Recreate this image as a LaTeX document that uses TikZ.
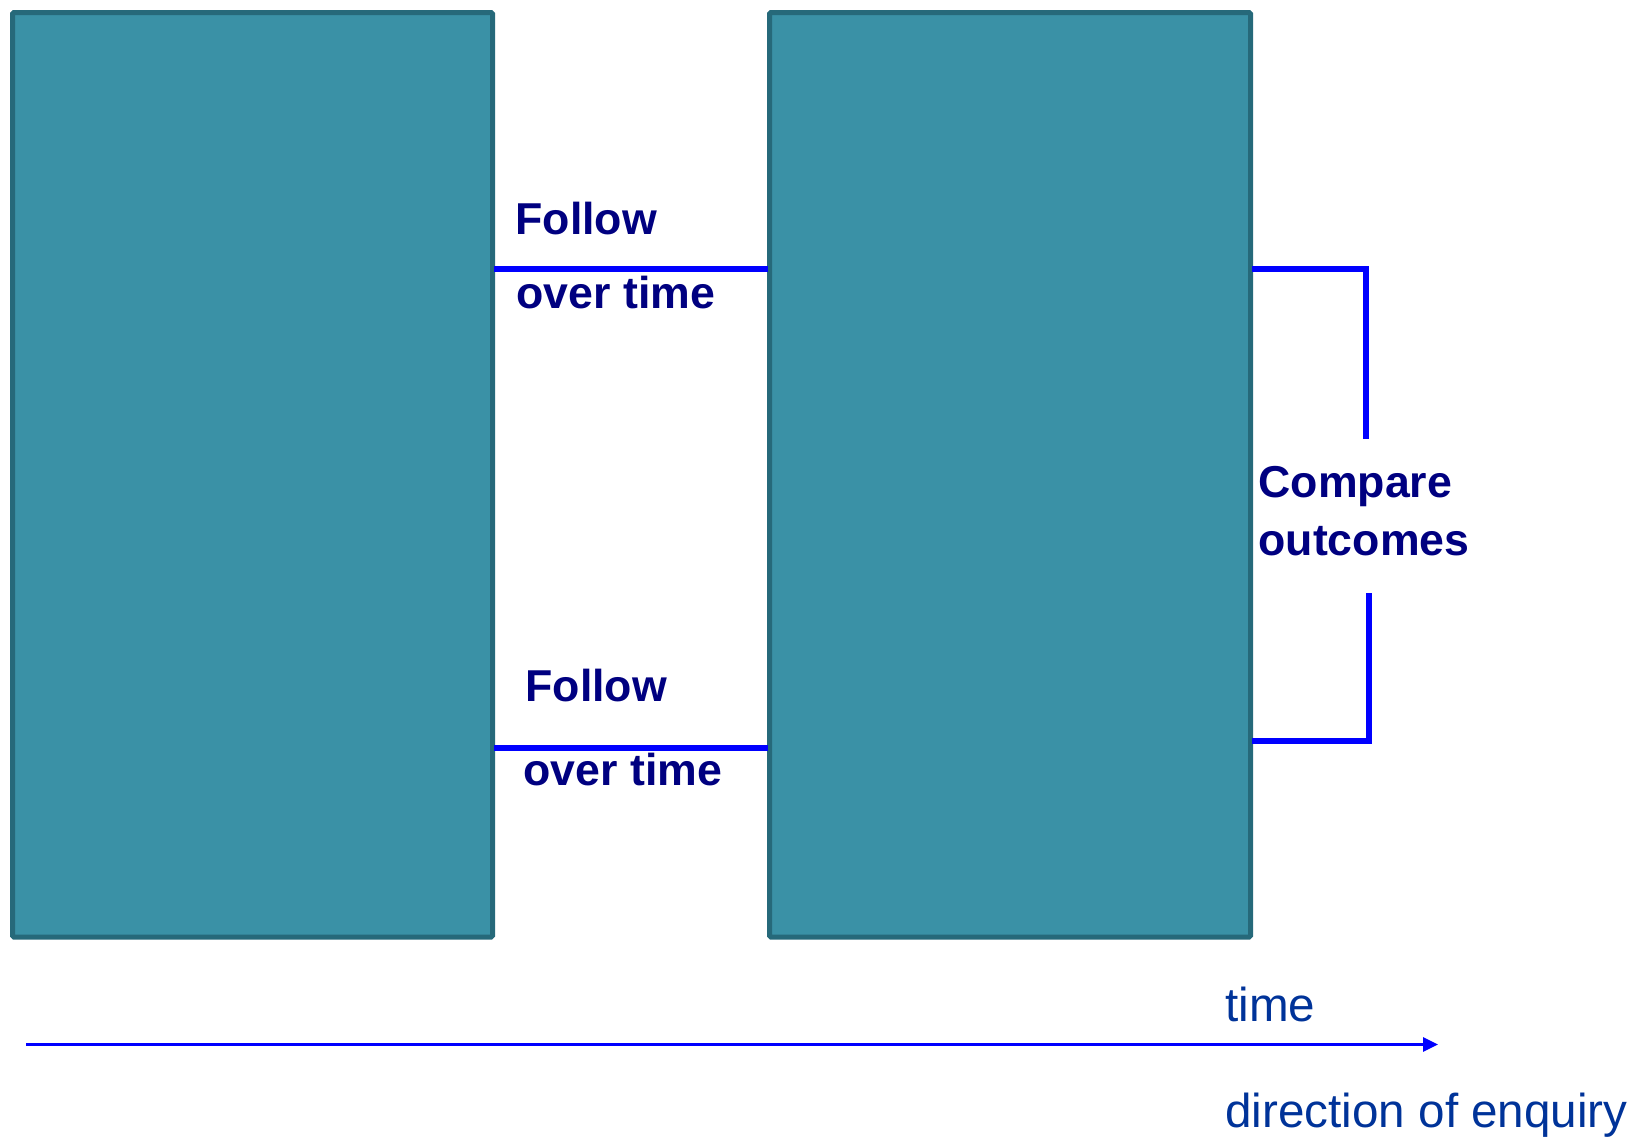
\documentclass[tikz,border=0pt]{standalone}
\usepackage{fontspec}
\setmainfont{Liberation Sans}
\usetikzlibrary{arrows.meta}

\definecolor{cohortfill}{RGB}{58,145,166}
\definecolor{cohortedge}{RGB}{38,105,122}
\definecolor{labelnavy}{RGB}{0,0,128}
\definecolor{axisblue}{RGB}{0,51,153}

\tikzset{every picture/.style={line width=0.75pt}}
\tikzset{
  cohort/.style={draw=cohortedge, fill=cohortfill, line width=3.75pt, rounded corners=1pt},
  followline/.style={draw={rgb,255:red,0;green,0;blue,255}, line width=4.5pt},
  boldlabel/.style={text=labelnavy, font=\fontsize{33.5pt}{40pt}\selectfont\bfseries, inner sep=0pt, anchor=base west},
  axislabel/.style={text=axisblue, font=\fontsize{35.7pt}{43pt}\selectfont, inner sep=0pt, anchor=base west}
}

\begin{document}
\begin{tikzpicture}[x=0.75pt,y=0.75pt,yscale=-1,xscale=1]
	\useasboundingbox (0,0) rectangle (1633,1139);

	%Shape: Rectangle [first group]
	\draw [cohort] (12.5,12.5) rectangle (492.5,937);
	%Shape: Rectangle [second group]
	\draw [cohort] (769.5,12.5) rectangle (1250.5,937);

	% points on the box edges
	\coordinate (leftA) at (494,269);
	\coordinate (rightA) at (768,269);
	\coordinate (leftB) at (494,748);
	\coordinate (rightB) at (768,748);
	\coordinate (outA) at (1252,269);
	\coordinate (topEnd) at (1366,439);
	\coordinate (botEnd) at (1369,593);
	\coordinate (outB) at (1252,741);
	\coordinate (axisStart) at (26,1044.5);
	\coordinate (axisEnd) at (1438,1044.5);

	%Straight Lines [follow up]
	\draw [followline] (leftA) -- (rightA) ;
	\draw [followline] (leftB) -- (rightB) ;
	%Bracket [compare]
	\draw [followline] (outA) -| (topEnd) ;
	\draw [followline] (botEnd) |- (outB) ;
	%Arrow [time axis]
	\draw [draw={rgb,255:red,0;green,0;blue,255}, line width=2.25pt, -{Triangle[length=11.25pt,width=10.5pt]}] (axisStart) -- (axisEnd) ;

	% Text Node
	\node [boldlabel] (followA) at (515,234) {Follow};
	% Text Node
	\node [boldlabel] (overA) at (516,308) {over time};
	% Text Node
	\node [boldlabel] (followB) at (525,701) {Follow};
	% Text Node
	\node [boldlabel] (overB) at (523,785) {over time};
	% Text Node
	\node [boldlabel] (compare) at (1258,497) {Compare};
	% Text Node
	\node [boldlabel] (outcomes) at (1258,555) {outcomes};
	% Text Node
	\node [axislabel] (timelbl) at (1225,1021) {time};
	% Text Node
	\node [axislabel] (enquiry) at (1225,1127) {direction of enquiry};

\end{tikzpicture}
\end{document}
